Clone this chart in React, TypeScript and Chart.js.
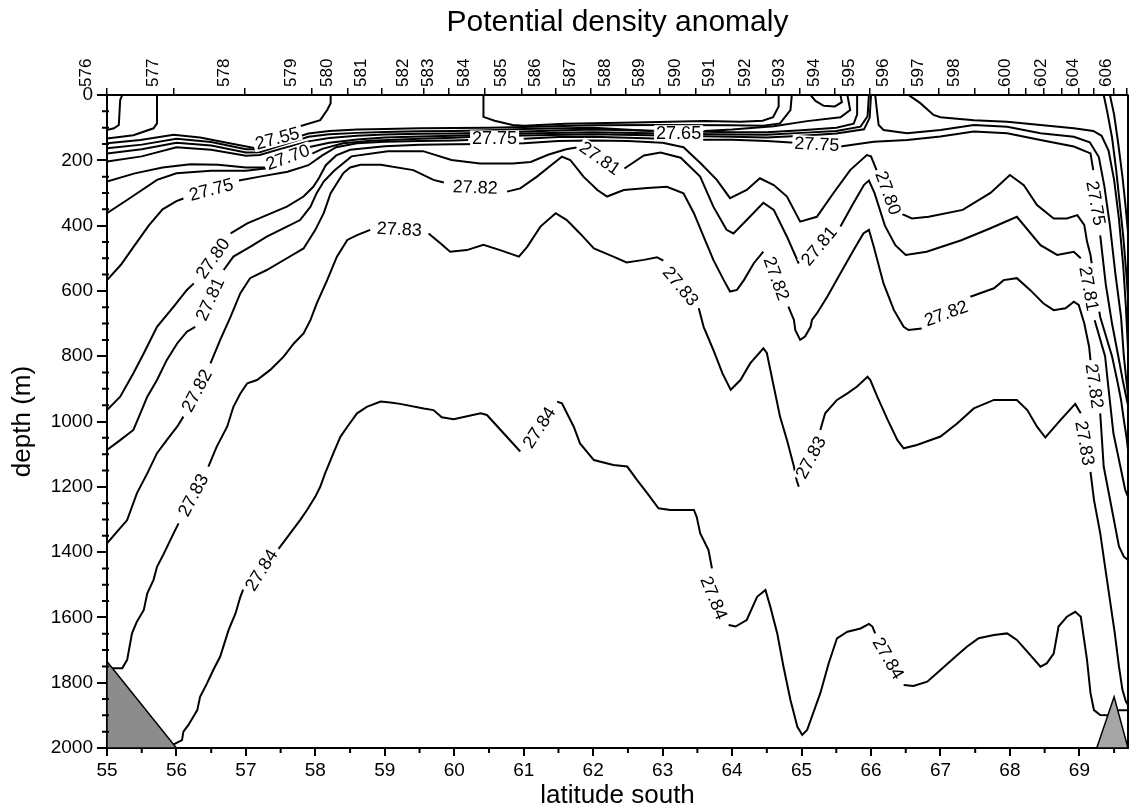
import React, { useEffect, useRef } from 'react';
import { Chart, registerables } from 'chart.js';

Chart.register(...registerables);

type P = [number, number] | null;

const FONT = "'Liberation Sans', Arial, Helvetica, sans-serif";

const LAT_TICKS = [55, 56, 57, 58, 59, 60, 61, 62, 63, 64, 65, 66, 67, 68, 69];
const LAT_MINOR = [55.5, 56.5, 57.5, 58.5, 59.5, 60.5, 61.5, 62.5, 63.5, 64.5, 65.5, 66.5, 67.5, 68.5, 69.5];
const DEPTH_TICKS = [0, 200, 400, 600, 800, 1000, 1200, 1400, 1600, 1800, 2000];
const STATION_LATS = [55.0, 55.96, 56.98, 57.95, 58.46, 58.96, 59.56, 59.92, 60.44, 60.97, 61.46, 61.96, 62.47, 62.96, 63.47, 63.96, 64.48, 64.98, 65.48, 65.98, 66.47, 66.98, 67.5, 67.98, 68.23, 68.49, 68.74, 68.99, 69.2, 69.5, 69.68];
const STATION_LABELS = ['576', '577', '578', '579', '580', '581', '582', '583', '584', '585', '586', '587', '588', '589', '590', '591', '592', '593', '594', '595', '596', '597', '598', '', '600', '', '602', '', '604', '', '606'];

// bottom topography (grey)
const BOTTOM_LEFT: P[] = [[55, 1735], [56, 2000], [55, 2000], [55, 1735]];
const BOTTOM_RIGHT: P[] = [[69.25, 2000], [69.5, 1843], [69.7, 2000], [69.25, 2000]];

// contour lines [latitude, depth]; null = gap for a label
const C_2784: P[] = [
  [55.96, 1989], [56.08, 1976], [56.10, 1950], [56.17, 1930], [56.30, 1884], [56.34, 1843], [56.44, 1802], [56.53, 1761], [56.63, 1720], [56.75, 1639], [56.85, 1588], [56.92, 1537], [56.96, 1515], null,
  [57.47, 1390], [57.64, 1342], [57.78, 1302], [57.88, 1271], [58.0, 1230], [58.07, 1200], [58.14, 1159], [58.26, 1097], [58.36, 1047], [58.46, 1016], [58.60, 975], [58.74, 955], [58.94, 939], [59.08, 942], [59.22, 946], [59.56, 960], [59.70, 965], [59.82, 987], [59.99, 993], [60.38, 975], [60.47, 980], [60.95, 1092], null,
  [61.48, 939], [61.55, 944], [61.72, 1016], [61.81, 1067], [62.01, 1118], [62.29, 1133], [62.49, 1138], [62.63, 1179], [62.78, 1220], [62.94, 1266], [63.11, 1271], [63.45, 1271], [63.49, 1292], [63.54, 1342], [63.66, 1394], [63.71, 1450], null,
  [63.95, 1623], [64.05, 1628], [64.21, 1608], [64.36, 1537], [64.48, 1516], [64.55, 1567], [64.65, 1649], [64.74, 1751], [64.84, 1853], [64.94, 1935], [65.01, 1960], [65.08, 1945], [65.27, 1832], [65.39, 1741], [65.51, 1664], [65.66, 1644], [65.85, 1634], [65.97, 1620], [66.02, 1628], [66.06, 1649], null,
  [66.47, 1807], [66.61, 1810], [66.81, 1797], [67.0, 1761], [67.19, 1725], [67.38, 1690], [67.55, 1664], [67.77, 1654], [67.96, 1649], [68.10, 1669], [68.25, 1705], [68.44, 1751], [68.53, 1741], [68.63, 1711], [68.70, 1628], [68.82, 1598], [68.94, 1583], [69.02, 1598], [69.11, 1730], [69.16, 1832], [69.21, 1884], [69.30, 1899], [69.42, 1900], null,
  [69.55, 1884], [69.7, 1884],
];

const C_2783: P[] = [
  [55.05, 1756], [55.22, 1756], [55.29, 1730], [55.36, 1649], [55.43, 1613], [55.53, 1577], [55.58, 1526], [55.67, 1485], [55.72, 1445], [55.82, 1404], [55.96, 1342], [56.03, 1312], null,
  [56.46, 1138], [56.58, 1077], [56.73, 1016], [56.82, 955], [56.92, 914], [57.02, 883], [57.16, 873], [57.35, 842], [57.54, 802], [57.69, 761], [57.83, 730], [57.93, 689], [58.02, 638], [58.17, 567], [58.31, 495], [58.46, 444], [58.60, 429], [58.79, 413], null,
  [59.63, 424], [59.80, 454], [59.94, 480], [60.18, 475], [60.42, 459], [60.66, 475], [60.93, 495], [61.05, 465], [61.24, 403], [61.46, 362], [61.62, 383], [61.81, 424], [62.01, 470], [62.29, 495], [62.48, 513], [62.73, 505], [62.92, 497], [63.01, 507], null,
  [63.52, 653], [63.59, 710], [63.73, 781], [63.86, 852], [63.98, 903], [64.12, 873], [64.26, 822], [64.45, 776], [64.50, 790], [64.60, 893], [64.69, 985], [64.79, 1057], [64.89, 1138], [64.93, 1180], [64.96, 1200], null,
  [65.27, 1026], [65.34, 975], [65.51, 934], [65.66, 914], [65.80, 893], [65.95, 863], [65.99, 873], [66.09, 924], [66.24, 995], [66.38, 1057], [66.47, 1082], [66.66, 1072], [67.0, 1046], [67.24, 1006], [67.48, 960], [67.77, 934], [68.10, 934], [68.25, 965], [68.39, 1016], [68.51, 1049], [68.73, 995], [68.94, 946], [69.02, 975], null,
  [69.16, 1154], [69.21, 1240], [69.30, 1342], [69.37, 1445], [69.44, 1547], [69.51, 1649], [69.57, 1751], [69.62, 1822], [69.67, 1858], [69.7, 1868],
];

const C_2782: P[] = [
  [55.0, 1373], [55.29, 1302], [55.43, 1220], [55.58, 1159], [55.72, 1097], [55.86, 1057], [56.01, 1016], [56.10, 985], null,
  [56.49, 822], [56.63, 750], [56.78, 679], [56.92, 607], [57.06, 561], [57.30, 536], [57.59, 500], [57.83, 470], [58.0, 413], [58.12, 362], [58.22, 301], [58.31, 270], [58.40, 240], [58.50, 222], [58.65, 214], [58.94, 214], [59.41, 230], [59.70, 260], [59.85, 268], null,
  [60.76, 296], [60.95, 286], [61.19, 250], [61.43, 209], [61.55, 189], [61.67, 199], [61.86, 250], [62.06, 291], [62.20, 311], [62.44, 291], [62.78, 285], [63.06, 281], [63.30, 301], [63.45, 362], [63.59, 434], [63.73, 505], [63.88, 567], [63.97, 602], [64.07, 597], [64.17, 567], [64.31, 516], [64.45, 480], null,
  [64.81, 648], [64.89, 689], [64.91, 720], [64.98, 750], [65.05, 740], [65.13, 710], [65.15, 689], [65.22, 669], [65.37, 618], [65.56, 546], [65.75, 475], [65.89, 424], [65.97, 413], [66.04, 465], [66.18, 577], [66.33, 659], [66.47, 710], [66.54, 720], [66.73, 715], null,
  [67.43, 618], [67.77, 592], [67.91, 567], [68.10, 561], [68.29, 597], [68.48, 638], [68.63, 659], [68.80, 653], [68.92, 633], [68.99, 643], [69.07, 699], [69.14, 771], [69.16, 812], null,
  [69.30, 975], [69.35, 1138], [69.47, 1271], [69.57, 1383], [69.64, 1414], [69.7, 1424],
];

const C_2781: P[] = [
  [55.0, 1087], [55.19, 1057], [55.38, 1026], [55.48, 975], [55.58, 924], [55.72, 873], [55.86, 812], [56.01, 761], [56.15, 725], [56.27, 710], null,
  [56.68, 536], [56.82, 495], [57.06, 465], [57.30, 434], [57.59, 403], [57.78, 383], [57.93, 342], [58.02, 300], [58.12, 265], [58.27, 232], [58.52, 188], [59.04, 172], [59.55, 172], [59.96, 199], [60.37, 210], [60.84, 210], [61.10, 205], [61.35, 183], [61.61, 166], [61.76, 161], null,
  [62.45, 225], [62.73, 185], [62.97, 176], [63.26, 192], [63.54, 250], [63.73, 342], [63.92, 413], [64.02, 424], [64.21, 383], [64.45, 330], [64.60, 352], [64.79, 434], [64.96, 516], null,
  [65.56, 403], [65.75, 330], [65.90, 275], [65.97, 262], [66.05, 300], [66.20, 400], [66.35, 460], [66.50, 490], [66.80, 480], [67.30, 445], [67.72, 408], [68.10, 373], [68.44, 460], [68.68, 490], [68.92, 480], [69.02, 500], null,
  [69.22, 690], [69.37, 800], [69.42, 900], [69.49, 1036], [69.59, 1138], [69.66, 1210], [69.7, 1230],
];

const C_2780: P[] = [
  [55.0, 965], [55.19, 924], [55.38, 852], [55.53, 791], [55.72, 710], [55.96, 648], [56.15, 597], [56.25, 577], null,
  [56.78, 424], [57.02, 393], [57.30, 368], [57.59, 342], [57.83, 311], [57.97, 281], [58.05, 255], [58.15, 215], [58.30, 185], [58.50, 168], [59.0, 157], [59.5, 152], [60.0, 151], [60.5, 150], [61.0, 148], [61.5, 141], [62.0, 139], [62.5, 141], [63.0, 146], [63.3, 160], [63.55, 210], [63.78, 260], [63.97, 316], [64.21, 291], [64.40, 255], [64.60, 276], [64.79, 311], [64.98, 388], [65.22, 373], [65.46, 300], [65.70, 230], [65.94, 184], [66.0, 188], [66.08, 230], null,
  [66.45, 365], [66.59, 378], [66.83, 373], [67.32, 352], [67.72, 300], [68.0, 245], [68.2, 276], [68.39, 337], [68.63, 378], [68.82, 378], [68.97, 368], [69.07, 398], [69.11, 449], [69.16, 490], [69.22, 580], [69.30, 680], [69.47, 800], [69.55, 880], [69.60, 934], [69.64, 995], [69.68, 1050], [69.7, 1087],
];

const C_2775: P[] = [
  [55.0, 567], [55.2, 520], [55.4, 460], [55.6, 400], [55.8, 350], [56.0, 325], [56.1, 317], null,
  [56.9, 262], [57.2, 250], [57.6, 235], [57.9, 215], [58.1, 185], [58.3, 160], [58.6, 148], [59.0, 143], [59.5, 141], [60.0, 139], [60.2, 138], null,
  [61.0, 134], [61.5, 129], [62.0, 128], [62.5, 131], [63.0, 134], [63.5, 137], [64.0, 137], [64.5, 141], [64.9, 146], null,
  [65.56, 158], [66.04, 143], [66.52, 138], [67.0, 127], [67.48, 112], [67.96, 117], [68.44, 138], [68.92, 158], [69.16, 179], [69.2, 230], null,
  [69.3, 430], [69.38, 580], [69.47, 700], [69.56, 800], [69.63, 880], [69.7, 950],
];

const C_U1: P[] = [
  [55.0, 362], [55.3, 320], [55.72, 260], [56.0, 240], [56.5, 232], [57.0, 232], [57.4, 222], [57.8, 195], [58.1, 165], [58.4, 148], [58.8, 140], [59.5, 134], [60.0, 131], [60.3, 128], [61.0, 124], [62.0, 120], [63.0, 124], [64.0, 128], [64.5, 130], [65.0, 125], [65.5, 118], [65.9, 105], [65.98, 70], [66.0, 0],
];

const C_2770: P[] = [
  [55.0, 265], [55.4, 240], [55.8, 222], [56.2, 212], [56.6, 214], [57.0, 222], [57.28, 222], null,
  [57.9, 160], [58.2, 146], [58.6, 136], [59.0, 130], [59.5, 127], [60.0, 125], [60.5, 122], [61.0, 118], [62.0, 114], [63.0, 118], [64.0, 121], [64.5, 122], [65.0, 116], [65.5, 110], [65.85, 97], [65.95, 65], [65.97, 0],
];

const C_2768: P[] = [
  [55.0, 204], [55.5, 188], [56.0, 160], [56.5, 168], [57.0, 186], [57.2, 184], [57.5, 165], [57.9, 142], [58.2, 132], [58.6, 125], [59.0, 121], [59.5, 119], [60.0, 118], [60.5, 116], [61.0, 112], [62.0, 106], [63.0, 110], [64.0, 114], [64.5, 114], [65.0, 108], [65.5, 100], [65.75, 88], [65.8, 60], [65.8, 0],
];

const C_2765: P[] = [
  [55.0, 179], [55.5, 166], [56.0, 146], [56.5, 155], [57.0, 176], [57.2, 175], [57.5, 155], [57.9, 128], [58.2, 120], [58.6, 116], [59.0, 113], [59.5, 111], [60.0, 110], [60.5, 108], [61.0, 104], [62.0, 100], [62.85, 110], null,
  [63.6, 110], [64.0, 106], [64.6, 96], [65.08, 80], [65.56, 68], [65.70, 46], [65.66, 0],
];

const C_2760: P[] = [
  [55.0, 163], [55.5, 152], [56.0, 134], [56.5, 144], [57.0, 166], [57.15, 166], [57.5, 145], [57.9, 118], [58.2, 110], [58.6, 106], [59.0, 104], [59.5, 102], [60.0, 101], [60.5, 100], [61.0, 98], [62.0, 93], [63.0, 92], [64.0, 93], [64.45, 94], [64.69, 87], [64.84, 46], [64.86, 0],
];

const C_2755: P[] = [
  [55.0, 148], [55.48, 138], [55.96, 122], [56.34, 130], [56.82, 150], [57.12, 162], null,
  [57.79, 95], [58.07, 77], [58.17, 46], [58.22, 25], [58.22, 0],
];

const C_BOX: P[] = [
  [60.42, 0], [60.42, 67], [60.58, 79], [60.84, 92], [61.0, 94], [61.6, 88], [62.6, 84], [63.6, 80], [64.12, 82], [64.44, 79], [64.59, 68], [64.67, 35], [64.67, 0],
];

const C_TOPA: P[] = [[55.0, 107], [55.1, 102], [55.17, 92], [55.19, 15], [55.22, 0]];
const C_TOPB: P[] = [[55.0, 133], [55.38, 123], [55.67, 102], [55.72, 87], [55.72, 0]];
const C_LOOP: P[] = [[65.13, 0], [65.2, 18], [65.32, 33], [65.48, 35], [65.58, 22], [65.56, 0]];

const C_M2: P[] = [
  [66.06, 0], [66.09, 56], [66.11, 92], [66.18, 107], [66.52, 117], [67.0, 107], [67.48, 92], [67.96, 97], [68.44, 117], [68.92, 128], [69.15, 145], [69.28, 190], [69.36, 280], [69.44, 400], [69.52, 550], [69.6, 680], [69.64, 800], [69.68, 880], [69.7, 920],
];
const C_M1: P[] = [
  [66.54, 0], [66.71, 25], [66.9, 61], [67.0, 68], [67.48, 77], [67.96, 82], [68.44, 92], [68.92, 102], [69.2, 110], [69.32, 125], [69.42, 170], [69.5, 260], [69.57, 380], [69.63, 520], [69.67, 650], [69.7, 780],
];
const C_R1: P[] = [[69.35, 0], [69.4, 50], [69.47, 130], [69.53, 230], [69.58, 330], [69.63, 430], [69.67, 530], [69.7, 620]];
const C_R2: P[] = [[69.44, 0], [69.5, 60], [69.56, 150], [69.62, 250], [69.66, 330], [69.7, 420]];

const CONTOURS: P[][] = [C_2784, C_2783, C_2782, C_2781, C_2780, C_2775, C_U1, C_2770, C_2768, C_2765, C_2760, C_2755, C_BOX, C_TOPA, C_TOPB, C_LOOP, C_M2, C_M1, C_R1, C_R2];

const LABEL_TEXT = ['27.84', '27.84', '27.84', '27.84', '27.83', '27.83', '27.83', '27.83', '27.83', '27.82', '27.82', '27.82', '27.82', '27.82', '27.81', '27.81', '27.81', '27.81', '27.80', '27.80', '27.75', '27.75', '27.75', '27.75', '27.70', '27.65', '27.55'];
const LABEL_LAT = [57.22, 61.22, 63.74, 66.25, 56.24, 59.21, 63.26, 65.13, 69.08, 56.29, 60.30, 64.64, 67.08, 69.22, 56.48, 62.10, 65.25, 69.14, 56.52, 66.25, 56.5, 60.58, 65.22, 69.24, 57.6, 63.23, 57.45];
const LABEL_DEPTH = [1455, 1018, 1540, 1725, 1225, 410, 585, 1110, 1066, 905, 282, 562, 668, 891, 625, 193, 462, 593, 500, 300, 289, 133, 150, 331, 190, 117, 132];
const LABEL_ANGLE = [-58, -57, 68, 60, -62, 3, 50, -62, 80, -62, 2, 70, -20, 82, -65, 35, -50, 80, -55, 70, -15, 0, 3, 80, -20, 0, -15];

const toXY = (pts: P[]) => pts.map((p, i) => (p ? { x: p[0], y: p[1] } : { x: (pts[i - 1] as [number, number])[0], y: null }));

const labelPlugin = {
  id: 'contourLabels',
  afterDatasetsDraw(chart: any) {
    const { ctx, scales } = chart;
    ctx.save();
    ctx.font = `18px ${FONT}`;
    ctx.textAlign = 'center';
    ctx.textBaseline = 'middle';
    LABEL_TEXT.forEach((t, i) => {
      const x = scales.x.getPixelForValue(LABEL_LAT[i]);
      const y = scales.y.getPixelForValue(LABEL_DEPTH[i]);
      ctx.save();
      ctx.translate(x, y);
      ctx.rotate((LABEL_ANGLE[i] * Math.PI) / 180);
      const w = ctx.measureText(t).width;
      ctx.fillStyle = '#fff';
      ctx.fillRect(-w / 2 - 2, -8, w + 4, 16);
      ctx.fillStyle = '#000';
      ctx.fillText(t, 0, 1);
      ctx.restore();
    });
    ctx.restore();
  },
  afterDraw(chart: any) {
    const { ctx, scales, chartArea } = chart;
    ctx.save();
    ctx.strokeStyle = '#000';
    ctx.lineWidth = 2;
    ctx.beginPath();
    ctx.moveTo(chartArea.right, chartArea.top);
    ctx.lineTo(chartArea.right, chartArea.bottom);
    LAT_MINOR.forEach((v) => {
      const x = scales.x.getPixelForValue(v);
      ctx.moveTo(x, chartArea.bottom);
      ctx.lineTo(x, chartArea.bottom + 5);
    });
    for (let d = 50; d < 2000; d += 50) {
      if (d % 200 === 0) continue;
      const y = scales.y.getPixelForValue(d);
      ctx.moveTo(chartArea.left - 5, y);
      ctx.lineTo(chartArea.left + 2, y);
    }
    ctx.stroke();
    ctx.restore();
  },
};

export default function App() {
  const ref = useRef<HTMLCanvasElement | null>(null);
  useEffect(() => {
    document.body.style.margin = '0';
    if (!ref.current) return;
    const datasets: any[] = [
      { data: toXY(BOTTOM_LEFT), borderColor: '#000', borderWidth: 1.5, backgroundColor: '#8c8c8c', fill: 'shape', pointRadius: 0, tension: 0 },
      { data: toXY(BOTTOM_RIGHT), borderColor: '#000', borderWidth: 1.5, backgroundColor: '#a6a6a6', fill: 'shape', pointRadius: 0, tension: 0 },
      ...CONTOURS.map((c) => ({ data: toXY(c), borderColor: '#000', borderWidth: 2, fill: false, pointRadius: 0, tension: 0, spanGaps: false })),
    ];
    const chart = new Chart(ref.current, {
      type: 'line',
      data: { datasets },
      options: {
        animation: false,
        responsive: false,
        events: [],
        layout: { padding: { left: 0, right: 8, top: 0, bottom: 0 } },
        plugins: { legend: { display: false }, tooltip: { enabled: false }, title: { display: false } },
        scales: {
          x: {
            type: 'linear', position: 'bottom', min: 55, max: 69.7,
            afterBuildTicks: (s: any) => { s.ticks = LAT_TICKS.map((v) => ({ value: v })); },
            afterFit: (s: any) => { s.height = 63; },
            ticks: { font: { size: 19, family: FONT }, color: '#000', padding: 3, maxRotation: 0, autoSkip: false, callback: (v: any) => String(v) },
            grid: { drawOnChartArea: false, drawTicks: true, tickLength: 8, color: '#000', lineWidth: 2 },
            border: { color: '#000', width: 2 },
            title: { display: true, text: 'latitude south', font: { size: 26, family: FONT }, color: '#000', padding: { top: 0, bottom: 0 } },
          },
          x2: {
            type: 'linear', position: 'top', min: 55, max: 69.7,
            afterBuildTicks: (s: any) => { s.ticks = STATION_LATS.map((v) => ({ value: v })); },
            afterFit: (s: any) => { s.height = 95; },
            ticks: { font: { size: 17, family: FONT }, color: '#000', padding: 1, minRotation: 90, maxRotation: 90, autoSkip: false, callback: (_v: any, i: number) => STATION_LABELS[i] },
            grid: { drawOnChartArea: false, drawTicks: true, tickLength: 7, color: '#000', lineWidth: 1.5 },
            border: { color: '#000', width: 2 },
            title: { display: true, text: 'Potential density anomaly', font: { size: 30, family: FONT }, color: '#000', padding: { top: 5, bottom: 0 } },
          },
          y: {
            type: 'linear', position: 'left', reverse: true, min: 0, max: 2000,
            afterBuildTicks: (s: any) => { s.ticks = DEPTH_TICKS.map((v) => ({ value: v })); },
            afterFit: (s: any) => { s.width = 107; },
            ticks: { font: { size: 19, family: FONT }, color: '#000', padding: 4, callback: (v: any) => String(v) },
            grid: { drawOnChartArea: false, drawTicks: true, tickLength: 10, color: '#000', lineWidth: 2 },
            border: { color: '#000', width: 2 },
            title: { display: true, text: 'depth (m)', font: { size: 26, family: FONT }, color: '#000', padding: { top: 7, bottom: 0 } },
          },
        },
      },
      plugins: [labelPlugin],
    } as any);
    return () => chart.destroy();
  }, []);
  return (
    <div style={{ position: 'absolute', left: 0, top: 0, width: 1136, height: 811, background: '#fff' }}>
      <canvas ref={ref} width={1136} height={811} style={{ display: 'block' }} />
    </div>
  );
}
